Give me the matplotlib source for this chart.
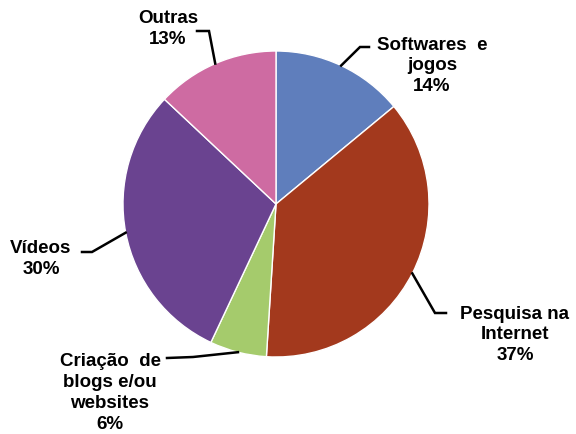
import numpy as np
import matplotlib
matplotlib.use('Agg')
import matplotlib.pyplot as plt

plt.rcParams['font.family'] = ['Liberation Sans', 'DejaVu Sans']

# data
labels = ['Softwares  e\njogos', 'Pesquisa na\nInternet', 'Criação  de\nblogs e/ou\nwebsites',
          'Vídeos', 'Outras']
values = [14, 37, 6, 30, 13]
colors = ['#5F7EBC', '#A3391D', '#A5CB6C', '#6A4390', '#CE6BA2']

# layout in pixel coords (y down)
cx, cy, r = 276, 205, 153
label_pos = [(432, 66), (515, 335), (110, 393), (41, 259), (168, 29)]
elbows = [((360, 48), (369, 48)),
          ((435, 314), (446, 314)),
          ((193, 358), (167, 359)),
          ((92, 253), (82, 253)),
          ((209, 32), (197, 32))]

fig = plt.figure(figsize=(5.76, 4.35), dpi=100)
ax = fig.add_axes([0, 0, 1, 1])

# y axis inverted -> startangle -90 and counterclock=True gives clockwise from top
ax.pie(values, colors=colors, startangle=-90, counterclock=True,
       center=(cx, cy), radius=r,
       wedgeprops=dict(edgecolor='white', linewidth=1.0))
ax.set_xlim(0, 576)
ax.set_ylim(435, 0)
ax.set_aspect('auto')
ax.axis('off')

total = sum(values)
cum = 0
for lab, v, (tx, ty), (el, end) in zip(labels, values, label_pos, elbows):
    mid = -90 + (cum + v / 2) / total * 360
    cum += v
    ex = cx + r * np.cos(np.radians(mid))
    ey = cy + r * np.sin(np.radians(mid))
    ax.plot([ex, el[0], end[0]], [ey, el[1], end[1]], color='black', lw=1.8,
            solid_joinstyle='miter')
    ax.text(tx, ty, f'{lab}\n{v}%', ha='center', va='center', fontsize=13.5,
            fontweight='bold', linespacing=1.3, color='black')

fig.savefig('out.png', dpi=100)
